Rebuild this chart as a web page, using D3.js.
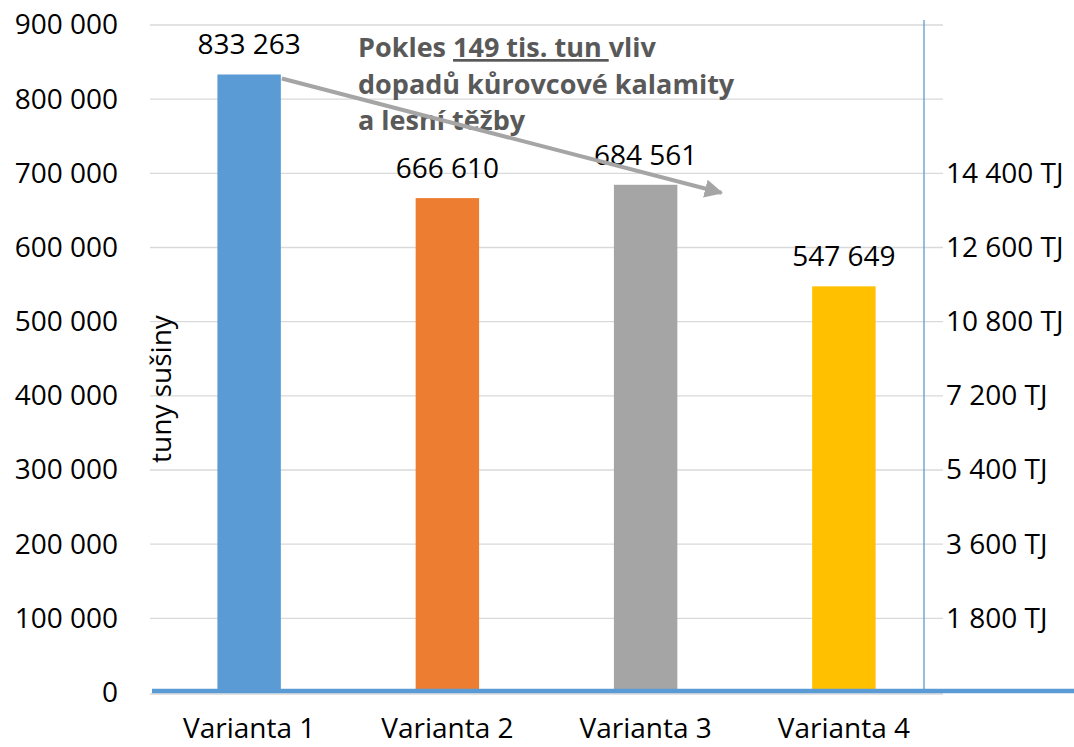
<!DOCTYPE html>
<html><head><meta charset="utf-8">
<script src="https://cdn.jsdelivr.net/npm/d3@7"></script>
<style>
html,body{margin:0;padding:0;background:#fff;}
svg text{font-family:"Open Sans",sans-serif;}
</style></head>
<body>
<svg id="chart" width="1074" height="747"></svg>
<script>
const categories = ["Varianta 1","Varianta 2","Varianta 3","Varianta 4"];
const values = [833263, 666610, 684561, 547649];
const barColors = ["#5b9bd5","#ed7d31","#a5a5a5","#ffc000"];
const leftTicks = [0,100000,200000,300000,400000,500000,600000,700000,800000,900000];
const rightTickValues = [100000,200000,300000,400000,500000,600000,700000];
const rightTickLabels = ["1 800 TJ","3 600 TJ","5 400 TJ","7 200 TJ","10 800 TJ","12 600 TJ","14 400 TJ"];
const yTitle = "tuny sušiny";
const annotation = [
  [["Pokles ",false],["149 tis. tun ",true],["vliv",false]],
  [["dopadů kůrovcové kalamity",false]],
  [["a lesní těžby",false]]
];
const arrowFrom = {cat:"Varianta 1", value: values[0]};

const svg = d3.select("#chart");
const fmt = v => d3.format(",")(v).replace(/,/g," ");

const x = d3.scaleBand().domain(categories).range([150,943]).paddingInner(0.68).paddingOuter(0.34);
const y = d3.scaleLinear().domain([0,900000]).range([692.5,25]);

// gridlines
svg.append("g").selectAll("line").data(leftTicks).join("line")
  .attr("x1",150).attr("x2",943)
  .attr("y1",d=>y(d)+ (d===0?1.5:0)).attr("y2",d=>y(d)+(d===0?1.5:0))
  .attr("stroke","#d9d9d9").attr("stroke-width",1.3);

// left axis
const la = svg.append("g").attr("transform","translate(150,0)")
  .call(d3.axisLeft(y).tickValues(leftTicks).tickFormat(fmt).tickSize(0).tickPadding(32));
la.select(".domain").remove();
la.selectAll("text").attr("font-size",28).attr("fill","#000").attr("font-family","Open Sans");

// right axis labels
const ra = svg.append("g").attr("transform","translate(943,0)")
  .call(d3.axisRight(y).tickValues(rightTickValues).tickFormat((d,i)=>rightTickLabels[i]).tickSize(0).tickPadding(3));
ra.select(".domain").remove();
ra.selectAll("text").attr("font-size",28).attr("fill","#000").attr("font-family","Open Sans");

// bars
svg.append("g").selectAll("rect").data(values).join("rect")
  .attr("x",(d,i)=>x(categories[i]))
  .attr("width",x.bandwidth())
  .attr("y",d=>y(d))
  .attr("height",d=>y(0)-y(d))
  .attr("fill",(d,i)=>barColors[i]);

// value labels
svg.append("g").selectAll("text").data(values).join("text")
  .attr("x",(d,i)=>x(categories[i])+x.bandwidth()/2)
  .attr("y",d=>y(d)-20)
  .attr("text-anchor","middle")
  .attr("font-size",28).attr("fill","#000")
  .text(fmt);

// blue vertical line
svg.append("line").attr("x1",924).attr("x2",924).attr("y1",y(900000)-5).attr("y2",y(0))
  .attr("stroke","#5b9bd5").attr("stroke-width",1.3);
// blue horizontal thick line
svg.append("line").attr("x1",152).attr("x2",1074).attr("y1",y(0)-1.5).attr("y2",y(0)-1.5)
  .attr("stroke","#5b9bd5").attr("stroke-width",4.5);

// category labels
const xa = svg.append("g").attr("transform","translate(0,"+y(0)+")")
  .call(d3.axisBottom(x).tickSize(0).tickPadding(0));
xa.select(".domain").remove();
xa.selectAll("text").attr("font-size",28).attr("fill","#000").attr("dy",null).attr("y",45).attr("font-family","Open Sans");

// y title
svg.append("text").attr("transform","translate(171,389) rotate(-90)")
  .attr("text-anchor","middle").attr("font-size",28).attr("fill","#000").text(yTitle);

// arrow
const defs = svg.append("defs");
defs.append("marker").attr("id","ah").attr("viewBox","0 0 10 10").attr("refX",9).attr("refY",5)
  .attr("markerWidth",4.6).attr("markerHeight",4.6).attr("orient","auto").attr("markerUnits","strokeWidth")
  .append("path").attr("d","M0,0 L10,5 L0,10 z").attr("fill","#a5a5a5");
const ax0 = x(arrowFrom.cat)+x.bandwidth()+1, ay0 = y(arrowFrom.value)+4;
const ax1 = x("Varianta 3")+x.bandwidth()+44, ay1 = y(values[2])+8;

// annotation text
const ann = svg.append("text").attr("font-weight","bold").attr("font-size",27).attr("fill","#595959");
annotation.forEach((line,li)=>{
  line.forEach((seg,si)=>{
    const t = ann.append("tspan").text(seg[0]).attr("xml:space","preserve");
    if(si===0){ t.attr("x",358).attr("y",57+li*36.5); }
    if(seg[1]) t.attr("text-decoration","underline").style("text-decoration","underline");
  });
});
ann.style("white-space","pre");

svg.append("line").attr("x1",ax0).attr("y1",ay0).attr("x2",ax1).attr("y2",ay1)
  .attr("stroke","#a5a5a5").attr("stroke-width",4).attr("marker-end","url(#ah)");
</script>
</body></html>
